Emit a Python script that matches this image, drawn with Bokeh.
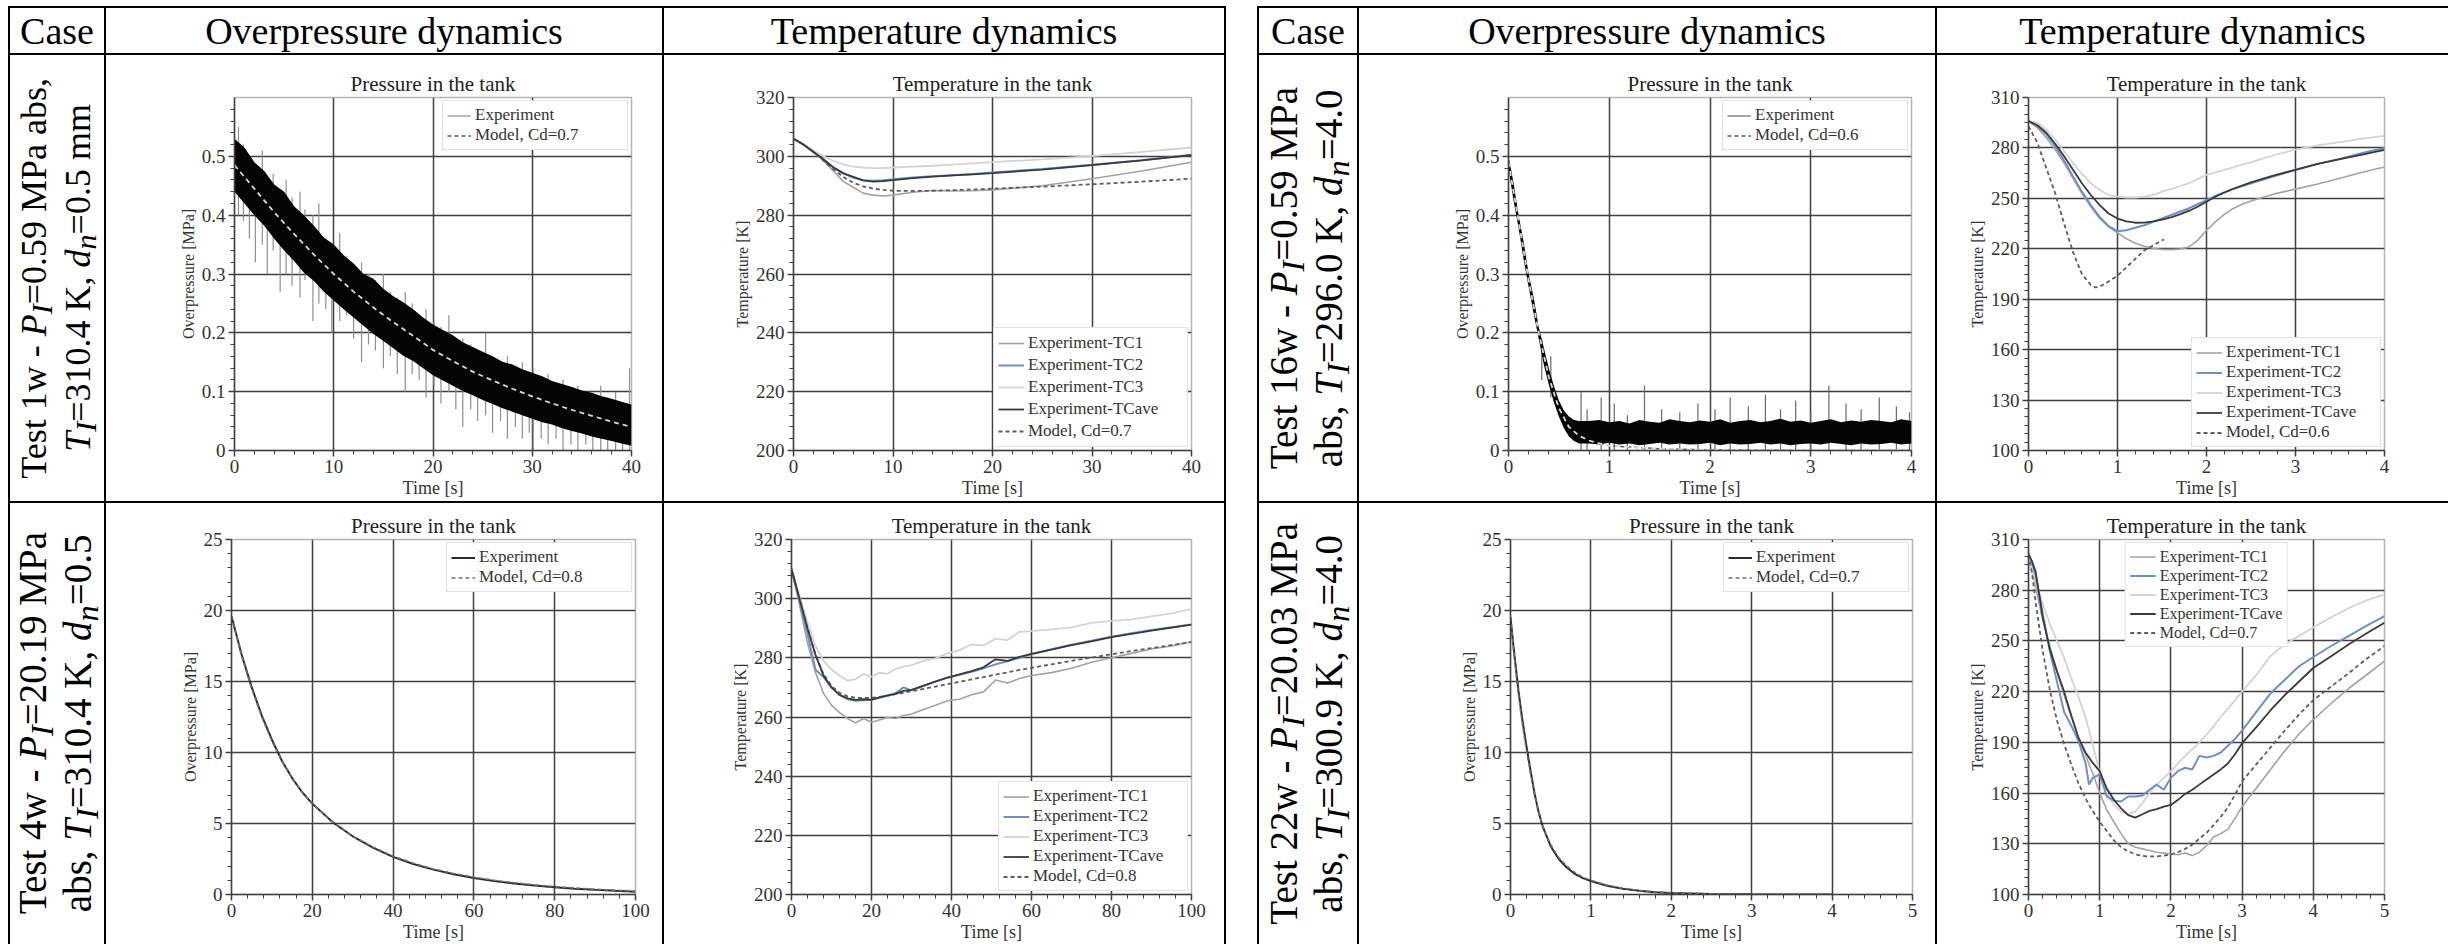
from bokeh.plotting import figure
from bokeh.models import (Range1d, SingleIntervalTicker, FixedTicker, NumeralTickFormatter,
                          Legend, LegendItem, Div)
from bokeh.layouts import row, column
from bokeh.core.properties import value
from bokeh.embed import file_html
from bokeh.resources import INLINE

FONT = "Liberation Serif"

# ---------------- table texts ----------------
header_labels = ["Case", "Overpressure dynamics", "Temperature dynamics"]
case_left = [
    ("Test 1w - <i>P</i><sub><i>I</i></sub>=0.59 MPa abs,",
     "<i>T</i><sub><i>I</i></sub>=310.4 K, <i>d</i><sub><i>n</i></sub>=0.5 mm"),
    ("Test 4w - <i>P</i><sub><i>I</i></sub>=20.19 MPa",
     "abs, <i>T</i><sub><i>I</i></sub>=310.4 K, <i>d</i><sub><i>n</i></sub>=0.5"),
]
case_right = [
    ("Test 16w - <i>P</i><sub><i>I</i></sub>=0.59 MPa",
     "abs, <i>T</i><sub><i>I</i></sub>=296.0 K, <i>d</i><sub><i>n</i></sub>=4.0"),
    ("Test 22w - <i>P</i><sub><i>I</i></sub>=20.03 MPa",
     "abs, <i>T</i><sub><i>I</i></sub>=300.9 K, <i>d</i><sub><i>n</i></sub>=4.0"),
]

# ---------------- Test 1w pressure ----------------
p1_t = [0, 1, 2, 3, 4, 5, 6, 7, 8, 9, 10, 11, 12, 13, 14, 15, 16, 17, 18, 19, 20,
        21, 22, 23, 24, 25, 26, 27, 28, 29, 30, 31, 32, 33, 34, 35, 36, 37, 38, 39, 40]
p1_hi = [0.53, 0.515, 0.49, 0.475, 0.452, 0.44, 0.415, 0.40, 0.382, 0.362,
         0.35, 0.332, 0.318, 0.30, 0.292, 0.275, 0.262, 0.252, 0.24, 0.226,
         0.214, 0.205, 0.196, 0.184, 0.176, 0.168, 0.16, 0.151, 0.146, 0.138,
         0.132, 0.126, 0.118, 0.113, 0.108, 0.102, 0.098, 0.092, 0.088, 0.083, 0.078]
p1_lo = [0.44, 0.42, 0.40, 0.382, 0.36, 0.34, 0.322, 0.302, 0.288, 0.27,
         0.255, 0.24, 0.226, 0.212, 0.198, 0.186, 0.174, 0.161, 0.152, 0.14,
         0.128, 0.119, 0.11, 0.101, 0.094, 0.086, 0.079, 0.072, 0.066, 0.06,
         0.054, 0.048, 0.044, 0.038, 0.033, 0.029, 0.024, 0.02, 0.016, 0.012, 0.008]
p1_model_t = [0, 2, 4, 6, 8, 10, 12, 14, 16, 18, 20, 22, 24, 26, 28, 30, 32, 34, 36, 38, 40]
p1_model = [0.485, 0.445, 0.405, 0.368, 0.333, 0.300, 0.270, 0.243, 0.218, 0.195, 0.171,
            0.152, 0.134, 0.119, 0.105, 0.092, 0.080, 0.069, 0.059, 0.049, 0.040]
p1_spike_t = [0.4, 0.9, 1.5, 2.1, 2.8, 3.3, 3.9, 4.6, 5.2, 5.8, 6.6, 7.1, 7.9, 8.5, 9.2, 9.8,
              10.6, 11.3, 12.0, 12.8, 13.5, 14.2, 15.0, 15.7, 16.4, 17.2, 17.9, 18.6, 19.3,
              20.1, 20.8, 21.6, 22.3, 23.0, 23.8, 24.5, 25.3, 26.0, 26.8, 27.5, 28.3, 29.0,
              29.7, 30.1, 30.9, 31.6, 32.4, 33.1, 33.9, 34.6, 35.4, 36.1, 36.9, 37.6, 38.4,
              39.1, 39.8]
p1_spike_lo = [0.40, 0.39, 0.36, 0.32, 0.35, 0.30, 0.34, 0.27, 0.30, 0.28, 0.26, 0.29, 0.22,
               0.25, 0.24, 0.20, 0.22, 0.23, 0.19, 0.15, 0.18, 0.17, 0.14, 0.16, 0.13, 0.10,
               0.13, 0.12, 0.09, 0.11, 0.08, 0.10, 0.07, 0.04, 0.07, 0.05, 0.06, 0.03, 0.05,
               0.02, 0.04, 0.02, 0.03, 0.00, 0.02, 0.01, 0.02, 0.00, 0.01, 0.00, 0.01, 0.00,
               0.00, 0.00, 0.00, 0.00, 0.00]
p1_spike_hi = [0.55, 0.52, 0.50, 0.47, 0.51, 0.46, 0.47, 0.44, 0.46, 0.43, 0.44, 0.41, 0.40,
               0.42, 0.36, 0.34, 0.37, 0.33, 0.31, 0.32, 0.30, 0.29, 0.30, 0.27, 0.26, 0.27,
               0.25, 0.23, 0.24, 0.22, 0.21, 0.23, 0.19, 0.19, 0.18, 0.17, 0.20, 0.16, 0.15,
               0.16, 0.14, 0.15, 0.13, 0.14, 0.12, 0.13, 0.11, 0.12, 0.10, 0.11, 0.10, 0.09,
               0.11, 0.09, 0.10, 0.08, 0.14]

# ---------------- Test 16w pressure ----------------
p3_t = [0.0, 0.05, 0.1, 0.15, 0.2, 0.25, 0.3, 0.35, 0.4, 0.45, 0.5, 0.55, 0.6, 0.65, 0.7,
        0.8, 0.9, 1.0, 1.1, 1.2, 1.3, 1.4, 1.5, 1.6, 1.7, 1.8, 1.9, 2.0, 2.1, 2.2, 2.3, 2.4,
        2.5, 2.6, 2.7, 2.8, 2.9, 3.0, 3.1, 3.2, 3.3, 3.4, 3.5, 3.6, 3.7, 3.8, 3.9, 4.0]
p3_hi = [0.50, 0.455, 0.40, 0.355, 0.30, 0.26, 0.21, 0.175, 0.14, 0.11, 0.085, 0.068, 0.058,
         0.052, 0.05,
         0.05, 0.052, 0.048, 0.05, 0.046, 0.052, 0.049, 0.047, 0.053, 0.05, 0.048, 0.051,
         0.049, 0.053, 0.047, 0.05, 0.052, 0.048, 0.05, 0.054, 0.049, 0.051, 0.047, 0.05,
         0.053, 0.048, 0.051, 0.049, 0.052, 0.05, 0.048, 0.053, 0.05]
p3_lo = [0.478, 0.425, 0.378, 0.325, 0.278, 0.232, 0.19, 0.146, 0.112, 0.082, 0.058, 0.038,
         0.024, 0.016, 0.012,
         0.012, 0.01, 0.013, 0.01, 0.012, 0.009, 0.011, 0.013, 0.01, 0.012, 0.01, 0.011,
         0.013, 0.009, 0.012, 0.01, 0.011, 0.013, 0.01, 0.012, 0.009, 0.011, 0.012, 0.01,
         0.013, 0.011, 0.009, 0.012, 0.01, 0.011, 0.013, 0.01, 0.012]
p3_model_t = [0, 0.1, 0.2, 0.3, 0.4, 0.5, 0.6, 0.7, 0.8, 0.9, 1.0, 1.5, 2.0, 3.0, 4.0]
p3_model = [0.49, 0.39, 0.29, 0.20, 0.125, 0.072, 0.04, 0.025, 0.017, 0.012, 0.008, 0.003,
            0.001, 0.0, 0.0]
p3_spike_t = [0.33, 0.42, 0.72, 0.78, 0.92, 1.05, 1.18, 1.35, 1.52, 1.7, 1.88, 2.05, 2.2,
              2.38, 2.55, 2.7, 2.85, 3.0, 3.18, 3.35, 3.5, 3.68, 3.85, 3.98]
p3_spike_lo = [0.12, 0.09, 0.0, 0.0, 0.0, 0.0, 0.0, 0.0, 0.0, 0.0, 0.0, 0.0, 0.0, 0.0, 0.0,
               0.0, 0.0, 0.0, 0.0, 0.0, 0.0, 0.0, 0.0, 0.0]
p3_spike_hi = [0.19, 0.16, 0.10, 0.07, 0.09, 0.08, 0.06, 0.11, 0.07, 0.065, 0.08, 0.07, 0.09,
               0.075, 0.095, 0.07, 0.085, 0.065, 0.11, 0.08, 0.07, 0.09, 0.075, 0.065]

# ---------------- Test 4w pressure ----------------
p5_t = [0, 2.5, 5, 7.5, 10, 12.5, 15, 17.5, 20, 25, 30, 35, 40, 45, 50, 55, 60, 65, 70, 75,
        80, 85, 90, 95, 100]
p5_exp = [19.6, 16.9, 14.6, 12.6, 10.9, 9.4, 8.2, 7.2, 6.4, 5.1, 4.1, 3.3, 2.65, 2.15, 1.75,
          1.42, 1.16, 0.95, 0.78, 0.63, 0.51, 0.41, 0.33, 0.26, 0.2]
p5_model = [19.6, 16.8, 14.5, 12.5, 10.8, 9.4, 8.2, 7.2, 6.4, 5.1, 4.1, 3.35, 2.7, 2.2, 1.8,
            1.48, 1.22, 1.0, 0.83, 0.68, 0.56, 0.46, 0.37, 0.3, 0.24]

# ---------------- Test 22w pressure ----------------
p7_t = [0, 0.05, 0.1, 0.15, 0.2, 0.25, 0.3, 0.35, 0.4, 0.5, 0.6, 0.7, 0.8, 0.9, 1.0, 1.2,
        1.4, 1.6, 1.8, 2.0, 2.5, 3.0, 3.5, 4.0]
p7_exp = [19.5, 16.8, 14.3, 12.2, 10.4, 8.7, 7.1, 5.8, 4.8, 3.4, 2.5, 1.9, 1.45, 1.15, 0.95,
          0.62, 0.4, 0.26, 0.16, 0.1, 0.03, 0.01, 0.0, 0.0]
p7_model = [19.5, 16.6, 14.0, 11.9, 10.1, 8.5, 7.0, 5.8, 4.8, 3.5, 2.6, 2.0, 1.55, 1.22, 1.0,
            0.66, 0.44, 0.29, 0.18, 0.12, 0.04, 0.015, 0.0, 0.0]

# ---------------- Test 1w temperature ----------------
t2_t = [0, 1, 2, 3, 4, 5, 6, 7, 8, 9, 10, 12, 14, 16, 18, 20, 25, 30, 35, 40]
t2_tc1 = [306, 304, 301.5, 298.5, 295, 291.5, 289.5, 287.5, 286.8, 286.5, 286.8, 287.8,
          288.4, 288.2, 288.3, 288.6, 290, 292.4, 295, 298]
t2_tc2 = [306, 304, 301.5, 299, 296.3, 294.3, 292.8, 291.9, 291.7, 291.9, 292.2, 292.8,
          293.2, 293.6, 294.0, 294.5, 295.7, 297.1, 298.7, 300.5]
t2_tc3 = [306, 304, 302, 300, 298.5, 297.3, 296.5, 296.2, 296.0, 296.0, 296.2, 296.5, 296.8,
          297.2, 297.6, 298.0, 299.0, 300.1, 301.5, 303.0]
t2_tcave = [306, 304, 301.5, 299, 296.2, 294.2, 293.0, 291.8, 291.4, 291.6, 291.9, 292.6,
            293.1, 293.5, 293.9, 294.3, 295.5, 297.0, 298.6, 300.4]
t2_model = [306, 304, 301.5, 298.6, 295.6, 293.0, 291.0, 289.8, 289.0, 288.6, 288.3, 288.2,
            288.3, 288.5, 288.7, 289.0, 289.7, 290.5, 291.4, 292.4]

# ---------------- Test 4w temperature ----------------
t6_t = [0, 2, 4, 6, 8, 10, 12, 14, 16, 18, 20, 22, 24, 26, 28, 30, 33, 36, 39, 42, 45, 48,
        51, 54, 57, 60, 65, 70, 75, 80, 85, 90, 95, 100]
t6_tc1 = [310, 298, 285, 275, 268, 264, 261.5, 259.5, 258.0, 259.5, 258.2, 259.0, 259.8,
          259.5, 260.5, 261.0, 262.5, 264.0, 265.5, 266.0, 267.5, 268.5, 272.5, 271.5, 273.0,
          274.0, 275.0, 276.5, 278.5, 280.0, 281.5, 283.0, 284.0, 285.5]
t6_tc2 = [310, 299, 288, 276, 273.5, 270, 267.5, 266.0, 265.5, 265.7, 265.8, 266.5, 267.2,
          268.0, 270.0, 269.0, 270.5, 272.0, 273.3, 274.3, 275.3, 276.5, 277.8, 278.8, 280.0,
          281.2, 282.9, 284.4, 285.8, 287.1, 288.3, 289.4, 290.3, 291.3]
t6_tc3 = [310, 301, 292, 284, 279, 276, 274, 272.3, 272.8, 274.5, 273.6, 275.0, 274.6, 276.2,
          277.0, 277.5, 279.0, 279.8, 281.5, 282.6, 284.5, 284.2, 286.5, 286.0, 288.8, 289.0,
          289.6, 290.3, 291.8, 292.5, 293.0, 294.0, 295.0, 296.5]
t6_tcave = [310, 300, 290, 281, 274, 270, 267.5, 266.3, 265.8, 266.0, 265.9, 266.6, 267.3,
            267.8, 268.8, 269.2, 270.6, 272.0, 273.3, 274.4, 275.5, 276.8, 279.5, 279.0,
            280.3, 281.3, 282.8, 284.3, 285.6, 287.0, 288.1, 289.2, 290.2, 291.2]
t6_model = [310, 300, 290, 281, 274.5, 270.5, 268.2, 267.0, 266.5, 266.4, 266.5, 266.8,
            267.2, 267.7, 268.2, 268.7, 269.5, 270.3, 271.1, 271.9, 272.7, 273.5, 274.3,
            275.1, 275.9, 276.6, 277.8, 279.0, 280.1, 281.2, 282.3, 283.3, 284.3, 285.3]

# ---------------- Test 16w temperature ----------------
t4_t = [0, 0.1, 0.2, 0.3, 0.4, 0.5, 0.6, 0.7, 0.8, 0.9, 1.0, 1.1, 1.2, 1.3, 1.4, 1.5, 1.6,
        1.7, 1.8, 1.9, 2.0, 2.1, 2.2, 2.3, 2.4, 2.5, 2.75, 3.0, 3.25, 3.5, 3.75, 4.0]
t4_tc1 = [296, 292, 286, 279, 271, 262, 253, 245, 238, 233, 229.5, 226, 223.3, 221.5, 220.3,
          219.6, 219.5, 219.8, 221, 225, 231, 236, 240.5, 244, 246.5, 248.5, 252.5, 255.5,
          258.5, 262, 265.5, 268.6]
t4_tc2 = [296, 293, 288, 281, 272.5, 263, 254, 246, 239, 233.5, 230.5, 231, 232.5, 234, 236,
          238, 240, 242, 244, 246.5, 249, 251.5, 253.5, 255.5, 257.3, 259, 263, 267, 270.5,
          273.5, 277, 280]
t4_tc3 = [296, 295, 291, 285, 278, 271, 264.5, 259, 255, 252, 251, 250.5, 250.5, 251, 252,
          254, 255.5, 257.2, 259, 261.5, 264, 265.5, 267, 268.5, 270, 271.5, 275.5, 279,
          281.5, 283.5, 285.5, 287.2]
t4_tcave = [296, 293.5, 289, 282.5, 275, 267, 259, 252, 246, 241, 238, 236.3, 235.5, 235.6,
            236.3, 237.3, 238.7, 240.5, 242.5, 245, 248, 251, 253.5, 255.7, 257.6, 259.5,
            263.5, 267, 270.5, 273.3, 276, 278.8]
t4_model_t = [0, 0.1, 0.2, 0.3, 0.4, 0.5, 0.6, 0.7, 0.75, 0.8, 0.9, 1.0, 1.1, 1.2, 1.3, 1.4,
              1.52]
t4_model = [293, 283, 268, 253, 235, 218, 205, 198.5, 197, 197.5, 200.5, 204, 209, 214, 219,
            222, 225.6]

# ---------------- Test 22w temperature ----------------
t8_t = [0, 0.05, 0.1, 0.2, 0.3, 0.4, 0.5, 0.6, 0.7, 0.8, 0.85, 0.9, 1.0, 1.1, 1.2, 1.3, 1.4,
        1.5, 1.6, 1.7, 1.8, 1.9, 2.0, 2.1, 2.2, 2.3, 2.4, 2.5, 2.6, 2.7, 2.8, 2.9, 3.0, 3.2,
        3.4, 3.6, 3.8, 4.0, 4.25, 4.5, 4.75, 5.0]
t8_tc1 = [297, 292, 282, 262, 247, 232, 218, 205, 193, 183, 177, 172, 160, 150, 143, 136,
          130, 128, 127, 126, 125, 124.5, 124, 123.5, 124.5, 123, 125, 129, 134, 136, 138.5,
          145, 152, 163, 174, 185, 195, 203.5, 213, 222, 230, 238]
t8_tc2 = [302, 296, 289, 266, 244, 226, 208, 200, 191, 178, 165, 169, 171, 158, 155.5, 155,
          158, 158, 158.5, 162, 165, 162, 169, 173, 175, 174, 182, 181, 182, 184, 188, 192,
          197, 208, 219, 227, 235, 240.5, 247, 253, 259, 264.7]
t8_tc3 = [297, 292, 285, 272, 260, 250, 240, 228, 217, 205, 197, 189, 172, 160, 153, 149,
          147.5, 149, 154, 160, 165, 169, 173, 177.5, 182, 186, 190, 194.5, 199.5, 205, 210,
          215, 220, 230, 241, 248, 253, 258, 264, 269.5, 274, 277.5]
t8_tcave = [301, 297, 291, 264, 245, 232, 220, 206, 193, 184, 181, 178, 173, 162.5, 156, 151,
            147, 145.5, 147.5, 149.5, 150.5, 152, 153, 156, 159.5, 162, 165, 168, 171, 174,
            177.5, 183, 189.5, 199, 209, 218, 226, 234, 241, 248, 254.5, 260.7]
t8_model = [301, 290, 273, 244, 221, 203, 189, 177, 166, 157, 153, 149.5, 143, 137.5, 132,
            128, 125.5, 123.8, 122.8, 122.5, 122.5, 123, 123.7, 125, 127, 129.5, 133, 136.5,
            141, 146, 151.5, 159, 167, 177, 187, 197, 206.5, 215, 223, 231, 239.5, 247]

# tick values of the 100-310 K temperature axes
temp_ticks_fast = [100, 130, 160, 190, 220, 250, 280, 310]

# ---------------- styles ----------------
GRID = "#3f3f3f"
AXC = "#404040"
C_TC1 = "#a3a3a3"
C_TC2 = "#6f8fca"
C_TC3 = "#d3d3d3"
C_AVE = "#3a3a3a"
C_MOD = "#5e5e5e"


def make_fig(w, h, xr, yr, bl, br, bt, bb, title, ylabel, xint, yint, xminor=5, yminor=5,
             yticks=None):
    p = figure(width=w, height=h, x_range=Range1d(*xr), y_range=Range1d(*yr),
               output_backend="svg", toolbar_location=None, title=title,
               x_axis_label="Time [s]", y_axis_label=ylabel,
               min_border_left=bl, min_border_right=br, min_border_top=bt,
               min_border_bottom=bb, margin=0)
    p.background_fill_color = "white"
    p.border_fill_color = "white"
    p.outline_line_color = "#b4b4b4"
    p.outline_line_width = 1.5
    p.title.text_font = FONT
    p.title.text_font_size = "21px"
    p.title.text_font_style = "normal"
    p.title.text_color = "#222222"
    p.title.align = "center"
    p.title.standoff = 3
    p.xaxis.ticker = SingleIntervalTicker(interval=xint, num_minor_ticks=xminor)
    if yticks is None:
        p.yaxis.ticker = SingleIntervalTicker(interval=yint, num_minor_ticks=yminor)
    else:
        minor = [v for v in range(int(yr[0]), int(yr[1]) + 1, yminor) if v not in yticks]
        p.yaxis.ticker = FixedTicker(ticks=yticks, minor_ticks=minor)
    for ax in (p.xaxis, p.yaxis):
        ax.formatter = NumeralTickFormatter(format="0.[0]")
        ax.axis_line_color = AXC
        ax.axis_line_width = 1.5
        ax.major_tick_line_color = AXC
        ax.major_tick_line_width = 1.5
        ax.minor_tick_line_color = AXC
        ax.major_tick_out = 6
        ax.major_tick_in = 0
        ax.minor_tick_out = 4
        ax.minor_tick_in = 0
        ax.major_label_text_font = FONT
        ax.major_label_text_font_size = "19px"
        ax.major_label_text_color = "#333333"
        ax.major_label_standoff = 3
        ax.axis_label_text_font = FONT
        ax.axis_label_text_font_style = "normal"
        ax.axis_label_text_color = "#333333"
        ax.axis_label_standoff = 2
    p.xaxis.axis_label_text_font_size = "18px"
    p.yaxis.axis_label_text_font_size = "16px"
    p.xgrid.grid_line_color = GRID
    p.ygrid.grid_line_color = GRID
    p.xgrid.grid_line_width = 1.5
    p.ygrid.grid_line_width = 1.5
    return p


def add_legend(p, items, loc, font="17px", label_width=150, label_height=19, spacing=0,
               padding=4, glyph_width=26):
    leg = Legend(items=[LegendItem(label=value(lab), renderers=[r]) for lab, r in items],
                 location=loc, label_text_font=FONT, label_text_font_size=font,
                 label_text_color="#333333", label_height=label_height,
                 glyph_height=label_height, glyph_width=glyph_width, label_standoff=4,
                 label_width=label_width, spacing=spacing, padding=padding, margin=3,
                 border_line_color="#c8c8c8", border_line_width=1.5,
                 background_fill_color="white", background_fill_alpha=1.0)
    p.add_layout(leg)


def noisy_pressure(w, h, xr, bl, br, bt, bb, xint, t, lo, hi, st, slo, shi, mt, mv, cd,
                   exp_color):
    p = make_fig(w, h, xr, (0, 0.6), bl, br, bt, bb, "Pressure in the tank",
                 "Overpressure [MPa]", xint, 0.1)
    r_sp = p.segment(x0=st, y0=slo, x1=st, y1=shi, line_color=exp_color, line_width=1.2)
    # dark dashed model line (as in the legend); mostly hidden below the dense signal band
    r_mod = p.line(mt, mv, line_color=C_MOD, line_dash="4 3", line_width=1.5)
    p.varea(x=t, y1=lo, y2=hi, fill_color="#050505", fill_alpha=1.0)
    # the model curve seen on top of the black band
    p.line(mt, mv, line_color="#d8d8d8", line_dash="5 4", line_width=1.8)
    add_legend(p, [("Experiment", r_sp), ("Model, Cd=" + cd, r_mod)], "top_right",
               label_width=148, label_height=19, spacing=0, padding=4, glyph_width=24)
    return p


def smooth_pressure(w, h, xr, bl, br, bt, bb, xint, t, ev, mv, cd):
    p = make_fig(w, h, xr, (0, 25), bl, br, bt, bb, "Pressure in the tank",
                 "Overpressure [MPa]", xint, 5)
    r_e = p.line(t, ev, line_color="#2a2a2a", line_width=2)
    r_m = p.line(t, mv, line_color="#707070", line_dash="4 3", line_width=1.6)
    add_legend(p, [("Experiment", r_e), ("Model, Cd=" + cd, r_m)], "top_right",
               label_width=148, label_height=19, spacing=0, padding=4, glyph_width=24)
    return p


def temp_fig(w, h, xr, yr, bl, br, bt, bb, xint, yint, yminor, t, tc1, tc2, tc3, ave,
             mt, mv, cd, loc, font="17px", lw=150, lh=19, yticks=None):
    p = make_fig(w, h, xr, yr, bl, br, bt, bb, "Temperature in the tank",
                 "Temperature [K]", xint, yint, 5, yminor, yticks)
    r1 = p.line(t, tc1, line_color=C_TC1, line_width=1.6)
    r3 = p.line(t, tc3, line_color=C_TC3, line_width=1.8)
    rm = p.line(mt, mv, line_color=C_MOD, line_dash="4 3", line_width=1.8)
    r2 = p.line(t, tc2, line_color=C_TC2, line_width=2)
    ra = p.line(t, ave, line_color=C_AVE, line_width=1.8)
    add_legend(p, [("Experiment-TC1", r1), ("Experiment-TC2", r2), ("Experiment-TC3", r3),
                   ("Experiment-TCave", ra), ("Model, Cd=" + cd, rm)], loc,
               font=font, label_width=lw, label_height=lh, spacing=0, padding=4)
    return p


# ---------------- table geometry ----------------
LW = 2
H_HEAD = 45
H_R1 = 446
H_R2 = 441
L_CASE, L_OVER, L_TEMP = 94, 556, 560
R_CASE, R_OVER, R_TEMP = 98, 576, 511


def bar(w, h):
    return Div(text="", width=w, height=h, margin=0, styles={"background-color": "#000000"})


def text_cell(txt, w, h, size=38):
    html = ('<div style="width:%dpx;height:%dpx;display:flex;align-items:center;'
            'justify-content:center;font-family:\'Liberation Serif\';font-size:%dpx;'
            'line-height:1;color:#000;white-space:nowrap;">%s</div>' % (w, h, size, txt))
    return Div(text=html, width=w, height=h, margin=0)


def case_cell(lines, w, h, size):
    inner = ('<div style="writing-mode:vertical-rl;transform:rotate(180deg);text-align:center;'
             'font-family:\'Liberation Serif\';font-size:%dpx;line-height:36px;'
             'white-space:nowrap;color:#000;">%s<br>%s</div>' % ((size,) + tuple(lines)))
    html = ('<div style="width:%dpx;height:%dpx;display:flex;align-items:center;'
            'justify-content:center;padding-left:6px;box-sizing:border-box;">%s</div>'
            % (w, h, inner))
    return Div(text=html, width=w, height=h, margin=0)


# plots
f1 = noisy_pressure(L_OVER, H_R1, (0, 40), 128, 31, 42, 51, 10, p1_t, p1_lo, p1_hi,
                    p1_spike_t, p1_spike_lo, p1_spike_hi, p1_model_t, p1_model, "0.7",
                    "#8f8f8f")
f2 = temp_fig(L_TEMP, H_R1, (0, 40), (200, 320), 129, 33, 42, 51, 10, 20, 5,
              t2_t, t2_tc1, t2_tc2, t2_tc3, t2_tcave, t2_t, t2_model, "0.7", "bottom_right",
              lw=155, lh=22)
f5 = smooth_pressure(L_OVER, H_R2, (0, 100), 125, 27, 36, 46, 20, p5_t, p5_exp, p5_model,
                     "0.8")
f6 = temp_fig(L_TEMP, H_R2, (0, 100), (200, 320), 127, 33, 36, 46, 20, 20, 5,
              t6_t, t6_tc1, t6_tc2, t6_tc3, t6_tcave, t6_t, t6_model, "0.8", "bottom_right",
              lw=150, lh=19)
f3 = noisy_pressure(R_OVER, H_R1, (0, 4), 149, 24, 42, 51, 1, p3_t, p3_lo, p3_hi,
                    p3_spike_t, p3_spike_lo, p3_spike_hi, p3_model_t, p3_model, "0.6",
                    "#6a6a6a")
f4 = temp_fig(R_TEMP, H_R1, (0, 4), (100, 310), 91, 64, 42, 51, 1, 30, 5,
              t4_t, t4_tc1, t4_tc2, t4_tc3, t4_tcave, t4_model_t, t4_model, "0.6",
              "bottom_right", lw=150, lh=19, yticks=temp_ticks_fast)
f7 = smooth_pressure(R_OVER, H_R2, (0, 5), 151, 23, 36, 46, 1, p7_t, p7_exp, p7_model, "0.7")
f8 = temp_fig(R_TEMP, H_R2, (0, 5), (100, 310), 91, 64, 36, 46, 1, 30, 5,
              t8_t, t8_tc1, t8_tc2, t8_tc3, t8_tcave, t8_t, t8_model, "0.7", "top_center",
              font="16px", lw=115, lh=19, yticks=temp_ticks_fast)

W_LEFT = LW * 4 + L_CASE + L_OVER + L_TEMP
W_RIGHT = LW * 3 + R_CASE + R_OVER + R_TEMP

left_table = column(
    bar(W_LEFT, LW),
    row(bar(LW, H_HEAD), text_cell(header_labels[0], L_CASE, H_HEAD), bar(LW, H_HEAD),
        text_cell(header_labels[1], L_OVER, H_HEAD), bar(LW, H_HEAD),
        text_cell(header_labels[2], L_TEMP, H_HEAD), bar(LW, H_HEAD)),
    bar(W_LEFT, LW),
    row(bar(LW, H_R1), case_cell(case_left[0], L_CASE, H_R1, 36), bar(LW, H_R1), f1,
        bar(LW, H_R1), f2, bar(LW, H_R1)),
    bar(W_LEFT, LW),
    row(bar(LW, H_R2), case_cell(case_left[1], L_CASE, H_R2, 39), bar(LW, H_R2), f5,
        bar(LW, H_R2), f6, bar(LW, H_R2)),
)

right_table = column(
    bar(W_RIGHT, LW),
    row(bar(LW, H_HEAD), text_cell(header_labels[0], R_CASE, H_HEAD), bar(LW, H_HEAD),
        text_cell(header_labels[1], R_OVER, H_HEAD), bar(LW, H_HEAD),
        text_cell(header_labels[2], R_TEMP, H_HEAD)),
    bar(W_RIGHT, LW),
    row(bar(LW, H_R1), case_cell(case_right[0], R_CASE, H_R1, 39), bar(LW, H_R1), f3,
        bar(LW, H_R1), f4),
    bar(W_RIGHT, LW),
    row(bar(LW, H_R2), case_cell(case_right[1], R_CASE, H_R2, 39), bar(LW, H_R2), f7,
        bar(LW, H_R2), f8),
)

page = column(
    Div(text="", width=2448, height=6, margin=0),
    row(Div(text="", width=8, height=10, margin=0), left_table,
        Div(text="", width=2448 - 8 - W_LEFT - W_RIGHT, height=10, margin=0), right_table),
)

open("out.html", "w").write(file_html(page, INLINE))
